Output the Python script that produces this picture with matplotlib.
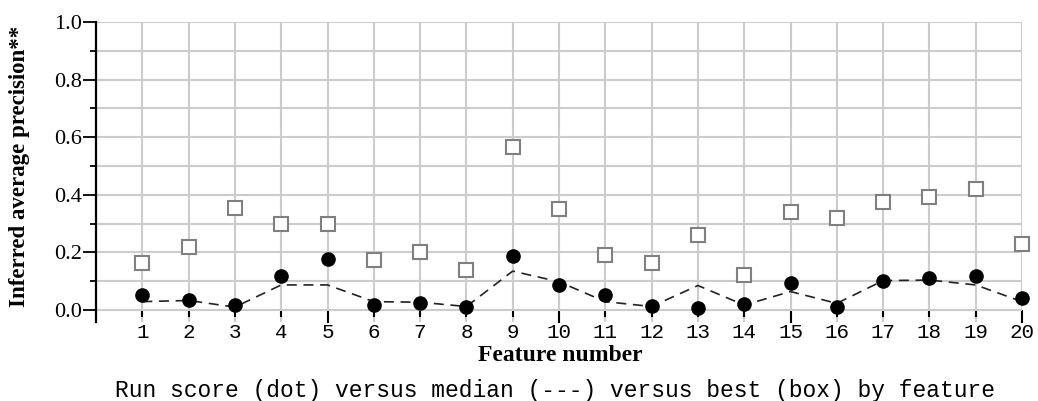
import matplotlib
matplotlib.use("Agg")
import matplotlib.pyplot as plt
from matplotlib.ticker import MultipleLocator, FormatStrFormatter

features = list(range(1, 21))
run_score = [0.052, 0.035, 0.017, 0.118, 0.176, 0.017, 0.023, 0.009, 0.189, 0.087,
             0.052, 0.014, 0.006, 0.021, 0.093, 0.012, 0.102, 0.110, 0.118, 0.041]
median = [0.029, 0.033, 0.010, 0.087, 0.087, 0.029, 0.027, 0.012, 0.135, 0.098,
          0.029, 0.012, 0.085, 0.017, 0.064, 0.023, 0.102, 0.104, 0.087, 0.029]
best = [0.163, 0.219, 0.354, 0.299, 0.299, 0.174, 0.202, 0.139, 0.567, 0.350,
        0.191, 0.162, 0.260, 0.122, 0.341, 0.318, 0.376, 0.391, 0.420, 0.229]
y_ticks = [0.0, 0.2, 0.4, 0.6, 0.8, 1.0]

SERIF = ["Liberation Serif", "DejaVu Serif"]
MONO = ["Liberation Mono", "DejaVu Sans Mono"]

fig = plt.figure(figsize=(10.38, 4.01), dpi=100)
W, H = 1038, 401
ax = fig.add_axes([96 / W, 1 - 322 / H, (1022 - 96) / W, 300 / H])

ax.set_xlim(0, 20)
ax.set_ylim(-0.0417, 1.0)

# grid
ax.set_yticks(y_ticks)
ax.yaxis.set_minor_locator(MultipleLocator(0.1))
ax.yaxis.set_major_formatter(FormatStrFormatter("%.1f"))
ax.set_xticks(features)
ax.grid(True, which="both", axis="y", color="#cccccc", lw=1.5, zorder=0)
ax.grid(True, which="major", axis="x", color="#cccccc", lw=1.5, zorder=0)
ax.set_axisbelow(True)

for s in ["top", "right", "bottom"]:
    ax.spines[s].set_visible(False)
# x ticks hang down from the zero line
ax.spines["bottom"].set_position(("data", 0))
ax.spines["left"].set_linewidth(1.6)
ax.spines["left"].set_color("black")

ax.plot(features, median, ls=(0, (6, 4)), color="#222222", lw=1.2, zorder=2, clip_on=False)
ax.plot(features, run_score, ls="none", marker="o", ms=9.5, color="black", zorder=3, clip_on=False)
ax.plot(features, best, ls="none", marker="s", ms=10.5, mfc="white", mec="#808080", mew=1.5,
        zorder=4, clip_on=False)

ax.tick_params(axis="y", which="major", direction="out", length=9.5, width=1.3, pad=0.5)
ax.tick_params(axis="y", which="minor", direction="out", length=4.5, width=1.3)
ax.tick_params(axis="x", which="major", direction="out", length=5, width=1.5, pad=4.5)
for f, tick in zip(features, ax.xaxis.get_major_ticks()):
    if f % 5 == 0:
        tick.tick1line.set_markersize(9)
for lab in ax.get_yticklabels():
    lab.set_fontfamily(SERIF)
    lab.set_fontsize(16)
for lab in ax.get_xticklabels():
    lab.set_fontfamily(MONO)
    lab.set_fontsize(15)

ax.set_ylabel("Inferred average precision**", family=SERIF, fontsize=16.5, fontweight="bold")
ax.yaxis.set_label_coords((30 - 96) / 926, 0.52)
ax.set_xlabel("Feature number", family=SERIF, fontsize=17, fontweight="bold")
ax.xaxis.set_label_coords((560 - 96) / 926, (322 - 345) / 300)
fig.text(555 / W, 1 - 390 / H, "Run score (dot) versus median (---) versus best (box) by feature",
         family=MONO, fontsize=16.5, ha="center", va="center")

fig.savefig("out.png", dpi=100)
